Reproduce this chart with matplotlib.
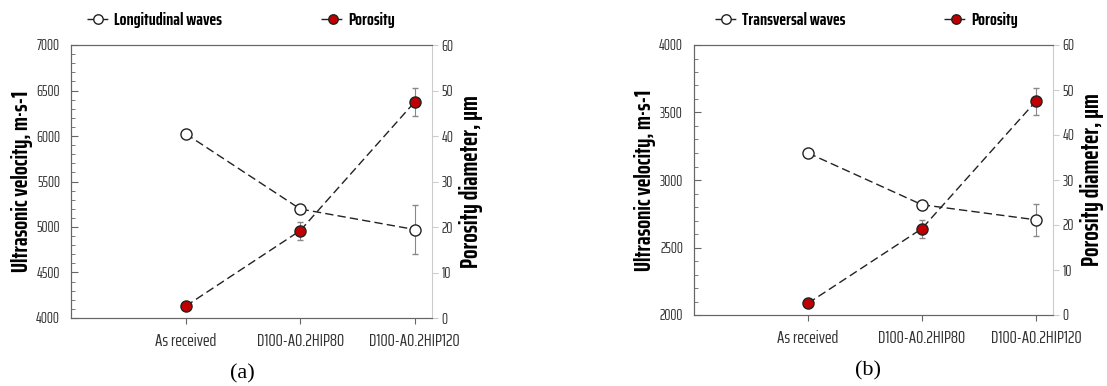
import matplotlib.pyplot as plt
from matplotlib.ticker import MultipleLocator

muestras = ["As received", "D100-A0.2HIP80", "D100-A0.2HIP120"]
long_vel = [6025, 5198, 4972]
long_err = [0, 0, 272]
trans_vel = [3200, 2817, 2705]
trans_err = [0, 0, 120]
poros = [2.6, 19.2, 47.5]
poros_err = [0, 2.0, 3.0]

fuente = ["Saira ExtraCondensed", "DejaVu Sans"]
plt.rcParams['font.family'] = fuente

fig = plt.figure(figsize=(11.07, 3.86), dpi=100)
W, H = 1107, 386


def panel(box, vel, vel_err, ylim, etiqueta, letra, xy_letra, leg_x):
    x0, y0, x1, y1 = box
    ax = fig.add_axes([x0 / W, 1 - y1 / H, (x1 - x0) / W, (y1 - y0) / H])
    ax2 = ax.twinx()
    x = [1, 2, 3]

    l1 = ax.errorbar(x, vel, yerr=vel_err, fmt='o', ls=(0, (6, 3)), color='#222222',
                     lw=1, mfc='white', mec='#222222', ms=8, mew=1,
                     ecolor='#888888', elinewidth=0.8, capsize=2)
    l2 = ax2.errorbar(x, poros, yerr=poros_err, fmt='o', ls=(0, (6, 3)), color='#222222',
                      lw=1, mfc='#c00000', mec='#222222', ms=8, mew=1,
                      ecolor='#888888', elinewidth=0.8, capsize=2)

    ax.set_xlim(0, 3.15)
    ax.set_ylim(*ylim)
    ax.yaxis.set_major_locator(MultipleLocator(500))
    ax.yaxis.set_minor_locator(MultipleLocator(100))
    ax2.set_ylim(0, 60)
    ax2.yaxis.set_major_locator(MultipleLocator(10))
    ax.set_xticks(x)
    ax.set_xticklabels(muestras, fontsize=13, color='#333333')

    for s in ['left', 'bottom', 'top']:
        ax.spines[s].set_color('#666666')
        ax2.spines[s].set_color('#666666')
    ax2.spines['right'].set_color('#cccccc')
    ax.spines['right'].set_visible(False)
    ax.tick_params(axis='y', which='both', direction='in', color='#666666',
                   labelsize=11, labelcolor='#333333', pad=8)
    ax.tick_params(axis='y', which='major', length=5)
    ax.tick_params(axis='y', which='minor', length=3)
    ax.tick_params(axis='x', direction='out', length=4, color='#666666', pad=7)
    ax2.tick_params(axis='y', direction='out', length=4, color='#cccccc',
                    labelsize=11, labelcolor='#333333', pad=3)

    ax.set_ylabel("Ultrasonic velocity, m·s-1", fontsize=17, fontweight='bold', labelpad=2)
    ax2.set_ylabel("Porosity diameter, μm", fontsize=18, fontweight='bold', labelpad=4)

    ax.legend([l1[0], l2[0]], [etiqueta, "Porosity"], ncol=2, frameon=False,
              loc='center', bbox_to_anchor=(leg_x, 1 + 25 / (y1 - y0)), columnspacing=5.5,
              handlelength=1.3, handletextpad=0.2, markerscale=0.85,
              prop={'family': fuente, 'weight': 'bold', 'size': 13})
    fig.text(xy_letra[0] / W, 1 - xy_letra[1] / H, letra, fontsize=16,
             family='Liberation Serif', ha='center', va='center')


panel((71, 45, 432, 318), long_vel, long_err, (4000, 7000),
      "Longitudinal waves", "(a)", (242, 374), 0.47)
panel((694, 45, 1053, 315), trans_vel, trans_err, (2000, 4000),
      "Transversal waves", "(b)", (868, 371), 0.48)

fig.savefig("out.png", dpi=100)
